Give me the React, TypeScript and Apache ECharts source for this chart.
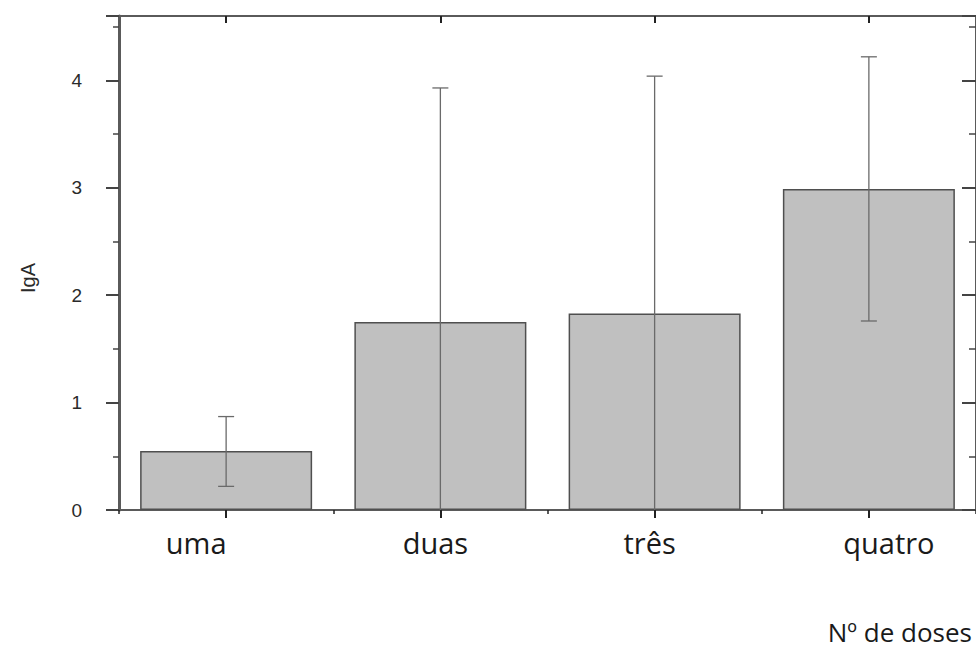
import React, { useEffect, useRef } from "react";
import * as echarts from "echarts";

const categories = ["uma", "duas", "três", "quatro"];
const means = [0.55, 1.75, 1.83, 2.99];
const upperErr = [0.87, 3.93, 4.04, 4.22];
const lowerErr = [0.22, -0.43, -0.38, 1.76];
const yTickValues = [0, 1, 2, 3, 4];
const yAxisTitle = "IgA";
const xAxisTitle = "Nº de doses";

// layout: horizontal shift of each category label (px)
const LABEL_SHIFT = [-30, -5, -5, 20];

export default function App() {
  const ref = useRef<HTMLDivElement>(null);
  useEffect(() => {
    if (!ref.current) return;
    const chart = echarts.init(ref.current, undefined, { renderer: "svg" });
    const axisColor = "#5a5a5a";
    const rich: Record<string, any> = {};
    LABEL_SHIFT.forEach((s, i) => {
      rich["c" + i] = {
        fontFamily: "Open Sans",
        fontSize: 29,
        lineHeight: 32,
        color: "#1a1a1a",
        padding: s < 0 ? [0, -2 * s, 0, 0] : [0, 0, 0, 2 * s],
      };
    });
    const errData = categories.map((_, i) => [i, lowerErr[i], upperErr[i]]);
    chart.setOption({
      animation: false,
      grid: { left: 119, top: 16, right: -4, bottom: 142, containLabel: false },
      xAxis: [
        {
          type: "category",
          data: categories,
          position: "bottom",
          axisLine: { show: true, lineStyle: { color: axisColor, width: 2 } },
          axisTick: { show: true, alignWithLabel: true, length: 8, lineStyle: { color: "#222", width: 2 } },
          axisLabel: {
            margin: 16,
            formatter: (v: string, i: number) => `{c${i}|${v}}`,
            rich,
          },
          splitLine: { show: false },
        },
        {
          type: "category",
          data: categories,
          position: "bottom",
          axisLine: { show: false },
          axisTick: { show: true, alignWithLabel: false, length: 4, lineStyle: { color: "#222", width: 1.5 } },
          axisLabel: { show: false },
          splitLine: { show: false },
        },
        {
          type: "category",
          data: categories,
          position: "top",
          axisLine: { show: true, lineStyle: { color: axisColor, width: 2 } },
          axisTick: { show: true, inside: true, alignWithLabel: true, length: 7, lineStyle: { color: "#222", width: 2 } },
          axisLabel: { show: false },
          splitLine: { show: false },
        },
      ],
      yAxis: [
        {
          type: "value",
          min: 0,
          max: 4.6,
          interval: 1,
          position: "left",
          axisLine: { show: true, lineStyle: { color: axisColor, width: 3 } },
          axisTick: { show: true, length: 13, lineStyle: { color: "#444", width: 2 } },
          minorTick: { show: true, splitNumber: 2, length: 6, lineStyle: { color: "#444", width: 1.5 } },
          axisLabel: {
            margin: 37,
            fontFamily: "Liberation Sans",
            fontSize: 19,
            color: "#2a2a2a",
            formatter: (v: number) => (yTickValues.includes(v) ? String(v) : ""),
          },
          splitLine: { show: false },
        },
        {
          type: "value",
          min: 0,
          max: 4.6,
          interval: 1,
          position: "right",
          axisLine: { show: true, lineStyle: { color: axisColor, width: 2 } },
          axisTick: { show: true, inside: true, length: 14, lineStyle: { color: "#444", width: 2 } },
          minorTick: { show: true, splitNumber: 2, length: 7, lineStyle: { color: "#444", width: 1.5 } },
          axisLabel: { show: false },
          splitLine: { show: false },
        },
      ],
      graphic: [
        {
          type: "text",
          x: 28,
          y: 278,
          rotation: Math.PI / 2,
          style: {
            text: yAxisTitle,
            align: "center",
            verticalAlign: "middle",
            fontFamily: "Liberation Sans",
            fontSize: 20,
            fill: "#2a2a2a",
          },
        },
        {
          type: "text",
          x: 972,
          y: 632,
          style: {
            text: xAxisTitle,
            align: "right",
            verticalAlign: "middle",
            fontFamily: "Open Sans",
            fontSize: 26,
            fill: "#1a1a1a",
          },
        },
      ],
      series: [
        {
          type: "bar",
          data: means,
          barWidth: 172,
          itemStyle: { color: "#c0c0c0", borderColor: "#4f4f4f", borderWidth: 1.5 },
          z: 2,
        },
        {
          type: "custom",
          data: errData,
          z: 5,
          renderItem: (params: any, api: any) => {
            const x = api.value(0);
            const lo = api.value(1);
            const hi = api.value(2);
            const top = api.coord([x, hi]);
            const bot = api.coord([x, Math.max(lo, 0)]);
            const half = 8;
            const style = { stroke: "#6a6a6a", lineWidth: 1.3 };
            const children: any[] = [
              { type: "line", shape: { x1: top[0], y1: top[1], x2: bot[0], y2: bot[1] }, style },
              { type: "line", shape: { x1: top[0] - half, y1: top[1], x2: top[0] + half, y2: top[1] }, style },
            ];
            if (lo >= 0) {
              children.push({ type: "line", shape: { x1: bot[0] - half, y1: bot[1], x2: bot[0] + half, y2: bot[1] }, style });
            }
            return { type: "group", children };
          },
        },
      ],
    });
    return () => chart.dispose();
  }, []);
  return (
    <div
      ref={ref}
      style={{ position: "fixed", left: 0, top: 0, width: 976, height: 652, background: "#fff" }}
    />
  );
}
